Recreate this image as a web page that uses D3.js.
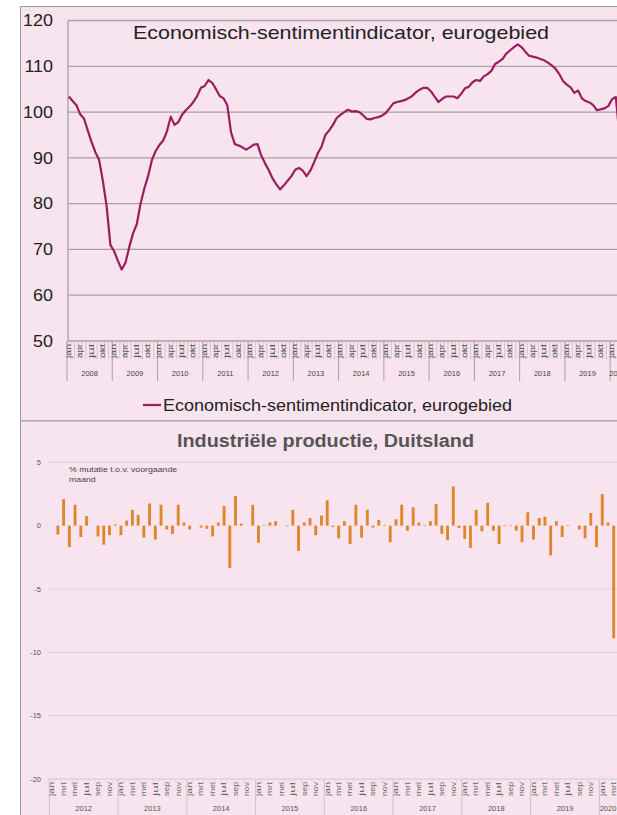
<!DOCTYPE html>
<html><head><meta charset="utf-8">
<script src="https://cdn.jsdelivr.net/npm/d3@7"></script>
<style>
html,body{margin:0;padding:0;background:#fff;}
svg{display:block;font-family:"Liberation Sans",Arial,sans-serif;}
</style></head><body>
<svg id="chart" width="617" height="815"></svg>
<script>
// ---------- data ----------
const monthNames = ["jan","feb","mrt","apr","mei","jun","jul","aug","sep","okt","nov","dec"];

const esiTitle = "Economisch-sentimentindicator, eurogebied";
const esiLegend = "Economisch-sentimentindicator, eurogebied";
const esiStartYear = 2008;
const esiValues = [
  103.4,102.4,101.5,99.5,98.6,96.0,93.5,91.3,89.6,85.0,79.5,71.0,   // 2008
  69.6,67.5,65.6,67.1,70.5,73.5,75.5,80.0,83.3,86.0,89.5,91.5,      // 2009
  92.8,93.8,95.8,99.0,97.2,97.8,99.4,100.4,101.2,102.2,103.5,105.3, // 2010
  105.7,107.0,106.4,105.0,103.5,103.0,101.5,95.5,93.0,92.7,92.3,91.8, // 2011
  92.3,92.9,93.0,90.5,88.8,87.3,85.5,84.2,83.1,84.0,85.0,86.0,      // 2012
  87.4,87.8,87.2,86.0,87.2,89.0,91.0,92.5,95.0,96.0,97.2,98.7,      // 2013
  99.4,100.0,100.5,100.1,100.2,100.0,99.3,98.5,98.4,98.7,98.9,99.2, // 2014
  99.8,100.8,101.9,102.2,102.4,102.6,103.0,103.5,104.3,104.9,105.3,105.3, // 2015
  104.5,103.3,102.2,102.9,103.4,103.4,103.4,103.0,104.0,105.2,105.5,106.5, // 2016
  107.0,106.8,107.8,108.3,109.0,110.5,111.0,111.6,112.8,113.5,114.2,114.8, // 2017
  114.2,113.2,112.3,112.1,111.9,111.6,111.3,110.8,110.2,109.5,108.3,106.8, // 2018
  106.0,105.4,104.2,104.7,103.0,102.4,102.1,101.5,100.4,100.6,100.8,101.3, // 2019
  102.8,103.3,94.5,67.0                                             // 2020
];
const esiTicks = [50,60,70,80,90,100,110,120];
const esiMonthLabels = ["jan","apr","jul","okt"];

const ipTitle = "Industriële productie, Duitsland";
const ipSubtitle = ["% mutatie t.o.v. voorgaande","maand"];
const ipStartYear = 2012;
const ipValues = [
  0.0,-0.7,2.1,-1.7,1.65,-0.9,0.75,0.0,-0.85,-1.5,-0.75,0.1,        // 2012
  -0.75,0.4,1.25,0.85,-0.95,1.75,-1.1,1.65,-0.3,-0.65,1.65,0.25,    // 2013
  -0.3,0.0,-0.15,-0.25,-0.85,0.25,1.55,-3.35,2.35,0.15,0.0,1.65,    // 2014
  -1.35,0.05,0.25,0.35,0.0,-0.05,1.25,-2.0,0.25,0.6,-0.75,0.8,      // 2015
  2.0,-0.1,-1.0,0.35,-1.45,1.65,-0.95,1.25,-0.15,0.45,0.05,-1.3,    // 2016
  0.5,1.65,-0.4,1.45,0.25,0.05,0.35,1.7,-0.65,-1.15,3.1,-0.2,       // 2017
  -1.05,-1.75,1.25,-0.45,1.8,-0.4,-1.45,0.05,-0.05,-0.4,-1.3,1.05,  // 2018
  -1.1,0.6,0.7,-2.35,0.35,-0.9,0.05,0.0,-0.3,-1.0,1.0,-1.7,         // 2019
  2.5,0.25,-8.9                                                     // 2020
];
const ipTicks = [5,0,-5,-10,-15,-20];
const ipGrid = [5,-5,-10,-15];
const ipMonthLabels = ["jan","mrt","mei","jul","sep","nov"];

// ---------- helpers ----------
const panelFill = "#f7e4ee";
const lineColor = "#9c1d5e";
const barColor = "#e0862a";

function monthKeys(startYear, n){
  return d3.range(n).map(i => ({key: (startYear + Math.floor(i/12)) + "-" + monthNames[i%12],
                                year: startYear + Math.floor(i/12), month: monthNames[i%12]}));
}
function stretch(sel, f){
  sel.each(function(){
    const l = this.getComputedTextLength();
    this.setAttribute("textLength", (l*f).toFixed(2));
    this.setAttribute("lengthAdjust","spacingAndGlyphs");
  });
}
function fitText(sel, w){
  sel.attr("textLength", w).attr("lengthAdjust","spacingAndGlyphs");
}

const svg = d3.select("#chart");

// panels
svg.append("rect").attr("x",20.5).attr("y",6.5).attr("width",700).attr("height",414.5)
  .attr("fill",panelFill).attr("stroke","#9d9a9c").attr("stroke-width",1);
svg.append("rect").attr("x",20.5).attr("y",421).attr("width",700).attr("height",500)
  .attr("fill",panelFill).attr("stroke","#9d9a9c").attr("stroke-width",1);

// ================= TOP: ESI line =================
const esiMonths = monthKeys(esiStartYear, esiValues.length);
const xE = d3.scaleBand().domain(esiMonths.map(d=>d.key))
  .range([67, 67 + esiValues.length*3.772]);
const yE = d3.scaleLinear().domain([50,120]).range([341, 20.5]);
const gTop = svg.append("g");

// gridlines
gTop.selectAll("line.grid").data(esiTicks).join("line")
  .attr("x1",68).attr("x2",617).attr("y1",d=>yE(d)).attr("y2",d=>yE(d))
  .attr("stroke","#aaa0a6").attr("stroke-width",1.3);
// y axis line
gTop.append("line").attr("x1",68).attr("x2",68).attr("y1",yE(120)).attr("y2",yE(50))
  .attr("stroke","#aaa0a6").attr("stroke-width",1.3);
// y labels
gTop.selectAll("text.ylab").data(esiTicks).join("text")
  .attr("x",53).attr("y",d=>yE(d)).attr("dy","0.36em")
  .attr("text-anchor","end").attr("font-size",16).attr("fill","#222")
  .text(d=>d).call(stretch,1.12);

// month ticks
const bwE = xE.bandwidth();
gTop.selectAll("line.mt").data(esiMonths).join("line")
  .attr("x1",d=>xE(d.key)).attr("x2",d=>xE(d.key))
  .attr("y1",341).attr("y2",359).attr("stroke","#c4b6be").attr("stroke-width",0.7);
// year separators
const esiYearsPresent = Array.from(new Set(esiMonths.map(d=>d.year)));
gTop.selectAll("line.ys").data(esiYearsPresent).join("line")
  .attr("x1",y=>xE(y+"-jan")).attr("x2",y=>xE(y+"-jan"))
  .attr("y1",341).attr("y2",381).attr("stroke","#aaa0a6").attr("stroke-width",1);
// month labels
gTop.selectAll("text.ml").data(esiMonths.filter(d=>esiMonthLabels.includes(d.month))).join("text")
  .attr("transform",d=>`translate(${xE(d.key)+bwE/2+2},344) rotate(-90)`)
  .attr("text-anchor","end").attr("font-size",6.5).attr("fill","#555")
  .text(d=>d.month).call(fitText,14);
// year labels
gTop.selectAll("text.yl").data(esiYearsPresent).join("text")
  .attr("x",y=>{const ks=esiMonths.filter(d=>d.year===y);return (xE(ks[0].key)+xE(ks[ks.length-1].key)+bwE)/2;})
  .attr("y",376).attr("text-anchor","middle").attr("font-size",7.5).attr("fill","#444")
  .text(y=>y);

// line
const lineGen = d3.line().x((d,i)=>xE(esiMonths[i].key)+bwE/2).y(d=>yE(d));
gTop.append("path").datum(esiValues).attr("d",lineGen)
  .attr("fill","none").attr("stroke",lineColor).attr("stroke-width",2.2).attr("stroke-linejoin","round");

// title
gTop.append("text").attr("x",341).attr("y",39).attr("text-anchor","middle")
  .attr("font-size",19).attr("fill","#222").text(esiTitle).call(fitText,416);

// legend
gTop.append("line").attr("x1",143).attr("x2",161).attr("y1",405).attr("y2",405)
  .attr("stroke",lineColor).attr("stroke-width",2.2);
gTop.append("text").attr("x",163).attr("y",410.5).attr("font-size",16.5).attr("fill","#222")
  .text(esiLegend).call(fitText,349);

// ================= BOTTOM: IP bars =================
const ipMonths = monthKeys(ipStartYear, ipValues.length);
const xI = d3.scaleBand().domain(ipMonths.map(d=>d.key))
  .range([49.3, 49.3 + ipValues.length*5.73]).paddingInner(0.5).paddingOuter(0.25);
const yI = d3.scaleLinear().domain([-20,5]).range([779, 462.3]);
const gBot = svg.append("g");
const stepI = xI.step();
const x0I = xI.range()[0];

gBot.selectAll("line.grid").data(ipGrid).join("line")
  .attr("x1",48).attr("x2",617).attr("y1",d=>yI(d)).attr("y2",d=>yI(d))
  .attr("stroke","#e0d0d9").attr("stroke-width",1.2);
gBot.append("line").attr("x1",48).attr("x2",617).attr("y1",yI(-20)).attr("y2",yI(-20))
  .attr("stroke","#d6c6cf").attr("stroke-width",1);

gBot.selectAll("text.ylab").data(ipTicks).join("text")
  .attr("x",41).attr("y",d=>yI(d)).attr("dy","0.35em").attr("text-anchor","end")
  .attr("font-size",7.5).attr("fill","#555").text(d=>d);

// title + subtitle
gBot.append("text").attr("x",325.5).attr("y",446.5).attr("text-anchor","middle")
  .attr("font-size",18).attr("font-weight","bold").attr("fill","#555")
  .text(ipTitle).call(fitText,297);
gBot.selectAll("text.sub").data(ipSubtitle).join("text")
  .attr("x",69).attr("y",(d,i)=>472+i*9.5).attr("font-size",7.8).attr("fill","#444")
  .text(d=>d).call(stretch,1.12);

// bars
gBot.selectAll("rect.bar").data(ipValues).join("rect")
  .attr("x",(d,i)=>xI(ipMonths[i].key)).attr("width",xI.bandwidth())
  .attr("y",d=>yI(Math.max(0,d))).attr("height",d=>Math.abs(yI(d)-yI(0)))
  .attr("fill",barColor);

// x axis: year separators, month labels, year labels
const ipYearsPresent = Array.from(new Set(ipMonths.map(d=>d.year)));
gBot.selectAll("line.ys").data(ipYearsPresent).join("line")
  .attr("x1",(y,i)=>x0I+i*12*stepI).attr("x2",(y,i)=>x0I+i*12*stepI)
  .attr("y1",779).attr("y2",815).attr("stroke","#d0c0c9").attr("stroke-width",1);
gBot.selectAll("line.mt").data(ipMonths).join("line")
  .attr("x1",(d,i)=>x0I+i*stepI).attr("x2",(d,i)=>x0I+i*stepI)
  .attr("y1",779).attr("y2",783).attr("stroke","#ddd0d6").attr("stroke-width",0.6);
gBot.selectAll("text.ml").data(ipMonths.filter(d=>ipMonthLabels.includes(d.month))).join("text")
  .attr("transform",d=>`translate(${xI(d.key)+xI.bandwidth()/2+2.3},782) rotate(-90)`)
  .attr("text-anchor","end").attr("font-size",6.5).attr("fill","#666")
  .text(d=>d.month).call(fitText,14);
gBot.selectAll("text.yl").data(ipYearsPresent).join("text")
  .attr("x",(y,i)=>{const n=ipMonths.filter(d=>d.year===y).length;return x0I+i*12*stepI+n*stepI/2;})
  .attr("y",811).attr("text-anchor","middle").attr("font-size",7.5).attr("fill","#555")
  .text(y=>y);
</script>
</body></html>
